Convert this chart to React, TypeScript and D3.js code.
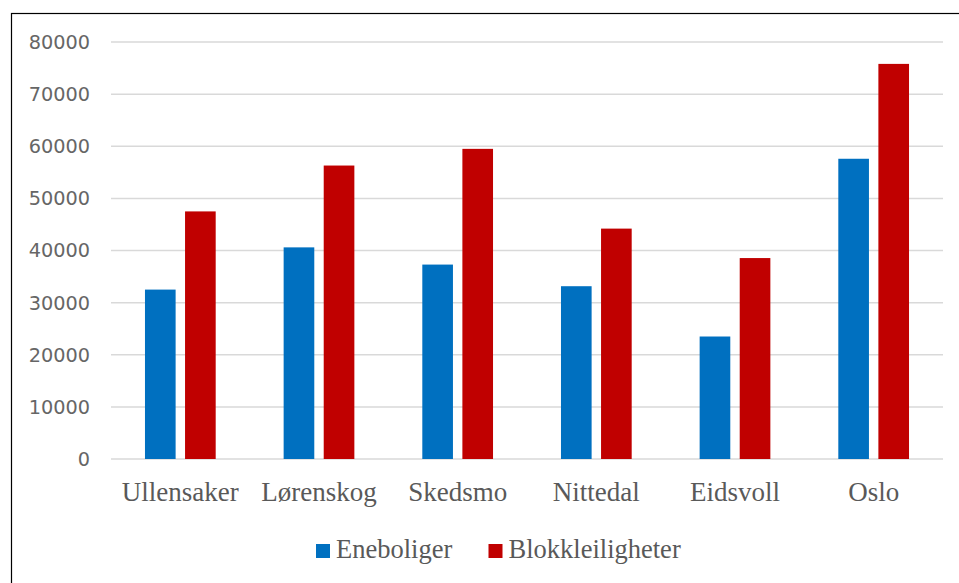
import React from "react";
import * as d3 from "d3";

const categories = ["Ullensaker", "Lørenskog", "Skedsmo", "Nittedal", "Eidsvoll", "Oslo"];
const seriesNames = ["Eneboliger", "Blokkleiligheter"];
const eneboliger = [32500, 40600, 37300, 33150, 23500, 57600];
const blokkleiligheter = [47500, 56300, 59500, 44200, 38550, 75800];
const yTicks = [0, 10000, 20000, 30000, 40000, 50000, 60000, 70000, 80000];
const colors = ["#0070C0", "#C00000"];

const W = 959;
const H = 583;

export default function App() {
  const x0 = d3.scaleBand<string>().domain(categories).range([111, 943]).padding(0);
  const y = d3.scaleLinear().domain([0, 80000]).range([459, 42]);
  const step = x0.bandwidth();
  const bw = step * 0.221;
  const gap = step * 0.068;
  const x1 = d3
    .scaleOrdinal<string, number>()
    .domain(seriesNames)
    .range([0, bw + gap]);
  const series = [eneboliger, blokkleiligheter];

  return (
    <div style={{ position: "fixed", left: 0, top: 0, width: W, height: H, background: "#fff" }}>
      <svg width={W} height={H} style={{ display: "block" }}>
        <rect x={0} y={0} width={W} height={H} fill="#fff" />
        <rect x={11.5} y={13.5} width={1100} height={700} fill="none" stroke="#000" strokeWidth={1.2} />
        {yTicks.map((t) => (
          <g key={t}>
            <line x1={111} x2={943} y1={y(t)} y2={y(t)} stroke="#d9d9d9" strokeWidth={1.5} />
            <text
              x={90}
              y={y(t)}
              dy="0.36em"
              textAnchor="end"
              fontFamily="DejaVu Sans, sans-serif"
              fontSize={19.3}
              fill="#666666"
            >
              {t}
            </text>
          </g>
        ))}
        {categories.map((c, i) => {
          const center = (x0(c) as number) + step / 2;
          const start = center - (2 * bw + gap) / 2;
          return (
            <g key={c}>
              {seriesNames.map((s, j) => (
                <rect
                  key={s}
                  x={start + x1(s)}
                  y={y(series[j][i])}
                  width={bw}
                  height={y(0) - y(series[j][i])}
                  fill={colors[j]}
                />
              ))}
              <text
                x={center}
                y={500.5}
                textAnchor="middle"
                fontFamily="Liberation Serif, serif"
                fontSize={27}
                fill="#595959"
              >
                {c}
              </text>
            </g>
          );
        })}
        {seriesNames.map((s, j) => {
          const lx = j === 0 ? 316 : 488.5;
          return (
            <g key={s}>
              <rect x={lx} y={544} width={14} height={14} fill={colors[j]} />
              <text
                x={lx + 20}
                y={558.3}
                fontFamily="Liberation Serif, serif"
                fontSize={26.5}
                fill="#595959"
              >
                {s}
              </text>
            </g>
          );
        })}
      </svg>
    </div>
  );
}
